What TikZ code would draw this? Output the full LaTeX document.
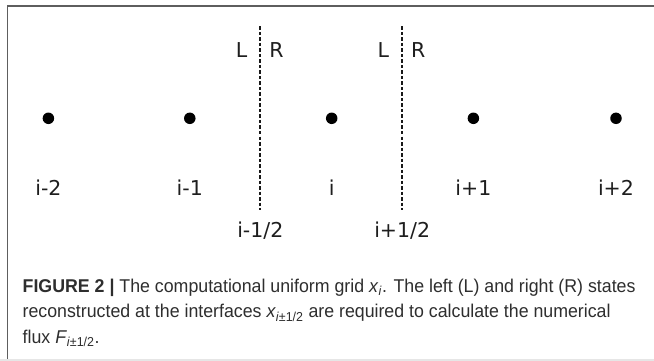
\documentclass[tikz,border=0pt]{standalone}
\usepackage{fontspec}
\setmainfont{Liberation Sans}[FakeStretch=0.96]
\newfontfamily\dejavu{DejaVu Sans}
\definecolor{framegray}{HTML}{5E5E5E}
\definecolor{lightline}{HTML}{E6E6E6}
\definecolor{captxt}{HTML}{2E2E2E}
\definecolor{labtxt}{HTML}{1E1E1E}
\begin{document}
\begin{tikzpicture}[x=1pt,y=-1pt,
  dot/.style={circle,fill=black,inner sep=0pt,minimum size=11.5pt},
  lab/.style={font=\dejavu\fontsize{20.5}{24}\selectfont,inner sep=0pt,text=labtxt},
  iface/.style={draw=black!90,dash pattern=on 3.5pt off 2pt,line width=2pt},
  captext/.style={font=\fontsize{18.5}{25}\selectfont,anchor=base west,inner sep=0pt,text=captxt}]
\useasboundingbox (0,0) rectangle (654,361);
\fill[white] (0,0) rectangle (654,361);
% frame
\draw[framegray,line width=1.5pt] (7.5,358.5) -- (7.5,6) -- (654,6);
\draw[lightline,line width=2pt] (0,360) -- (654,360);
% grid points
\node[dot] (d1) at (48.4,118.3) {};
\node[dot] (d2) at (189.8,118.3) {};
\node[dot] (d3) at (331.7,118.3) {};
\node[dot] (d4) at (473.4,118.3) {};
\node[dot] (d5) at (616,118.3) {};
% point labels
\node[lab] (l1) at (48.4,187.5) {i-2};
\node[lab] (l2) at (189.8,187.5) {i-1};
\node[lab] (l3) at (331.7,187.5) {i};
\node[lab] (l4) at (473.4,187.5) {i+1};
\node[lab] (l5) at (616,187.5) {i+2};
% interfaces
\coordinate (t1) at (260.3,26.5);
\coordinate (b1) at (260.3,210);
\coordinate (t2) at (402.2,26.5);
\coordinate (b2) at (402.2,210);
\draw[iface] (t1) -- (b1);
\draw[iface] (t2) -- (b2);
\node[lab] (L1) at (241.7,50) {L};
\node[lab] (R1) at (276.5,50) {R};
\node[lab] (L2) at (383.3,50) {L};
\node[lab] (R2) at (418.3,50) {R};
\node[lab] (h1) at (260.3,230.5) {i-1/2};
\node[lab] (h2) at (402.2,230.5) {i+1/2};
% caption
\node[captext] (c1) at (22.5,292.5) {\textbf{FIGURE 2 |} The computational uniform grid \textit{x}\textsubscript{\textit{i}}. The left (L) and right (R) states};
\node[captext] (c2) at (22.5,317.8) {reconstructed at the interfaces \textit{x}\textsubscript{\textit{i}±1/2} are required to calculate the numerical};
\node[captext] (c3) at (22.5,343) {flux \textit{F}\textsubscript{\textit{i}±1/2}.};
\end{tikzpicture}
\end{document}
